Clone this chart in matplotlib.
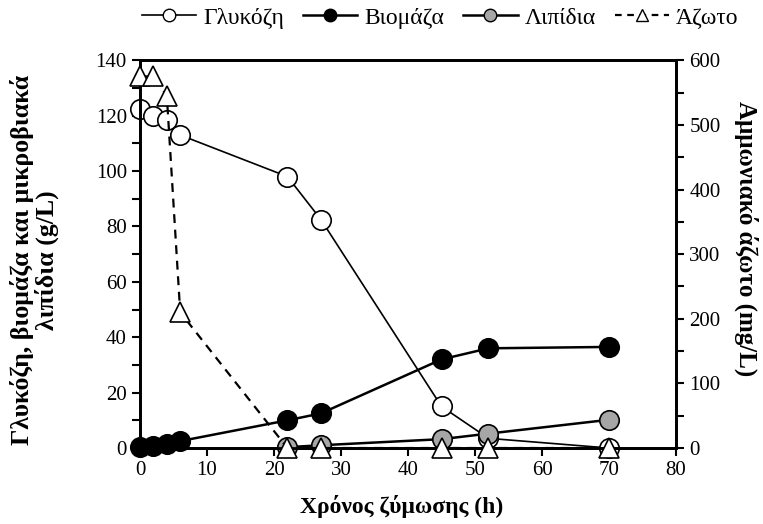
import matplotlib
matplotlib.use("Agg")
import matplotlib.pyplot as plt
from matplotlib.lines import Line2D
from matplotlib.ticker import MultipleLocator

plt.rcParams['font.family'] = ['Liberation Serif', 'DejaVu Serif']

# Fermentation time course
t_glucose = [0, 2, 4, 6, 22, 27, 45, 52, 70]
glucose = [122.5, 120, 118.5, 113, 98, 82.5, 15, 3.5, 0]

t_biomass = [0, 2, 4, 6, 22, 27, 45, 52, 70]
biomass = [0.5, 0.8, 1.5, 2.5, 10, 12.5, 32, 36, 36.5]

t_lipids = [22, 27, 45, 52, 70]
lipids = [0.3, 1.0, 3.2, 5.2, 10.2]

t_nitrogen = [0, 2, 4, 6, 22, 27, 45, 52, 70]
nitrogen = [575, 575, 545, 210, 0, 0, 0, 0, 0]

series_names = ["Γλυκόζη", "Βιομάζα", "Λιπίδια", "Άζωτο"]

TICK_FS = 15
LEG_FS = 17

fig = plt.figure(figsize=(7.63, 5.24), dpi=100)
ax = fig.add_axes([0.1835, 0.145, 0.7025, 0.74])

ms = 14
ax.plot(t_glucose, glucose, '-', color='black', lw=1.2, marker='o', ms=ms,
        mfc='white', mec='black', mew=1.2, zorder=2)
ax.plot(t_lipids, lipids, '-', color='black', lw=1.8, marker='o', ms=ms,
        mfc='#a6a6a6', mec='black', mew=1.2, zorder=3)
ax.plot(t_biomass, biomass, '-', color='black', lw=1.8, marker='o', ms=ms,
        mfc='black', mec='black', mew=1.2, zorder=4)

ax.set_xlim(0, 80)
ax.set_ylim(0, 140)
ax.xaxis.set_major_locator(MultipleLocator(10))
ax.yaxis.set_major_locator(MultipleLocator(20))
ax.yaxis.set_minor_locator(MultipleLocator(10))
ax.tick_params(axis='both', which='both', direction='out', labelsize=TICK_FS,
               width=1.5, length=6, color='black')
for s in ax.spines.values():
    s.set_linewidth(2)

ax2 = ax.twinx()
ax2.plot(t_nitrogen, nitrogen, '--', color='black', lw=1.6, dashes=(4, 3),
         marker='^', ms=ms, mfc='white', mec='black', mew=1.2, zorder=5)
ax2.set_ylim(0, 600)
ax2.yaxis.set_major_locator(MultipleLocator(100))
ax2.yaxis.set_minor_locator(MultipleLocator(50))
ax2.tick_params(axis='y', which='both', direction='out', labelsize=TICK_FS,
                width=1.5, length=6)
for s in ax2.spines.values():
    s.set_linewidth(2)

for a in (ax, ax2):
    for line in a.get_lines():
        line.set_clip_on(False)

# Axis titles
fig.text(0.527, 0.034, "Χρόνος ζύμωσης (h)", fontsize=17, fontweight='bold',
         ha='center', va='center')
fig.text(0.045, 0.504, "Γλυκόζη, βιομάζα και μικροβιακά\nλιπίδια (g/L)",
         fontsize=18.5, fontweight='bold', ha='center', va='center',
         rotation=90, linespacing=1.0, multialignment='center')
fig.text(0.978, 0.545, "Αμμωνιακό άζωτο (mg/L)", fontsize=18, fontweight='bold',
         ha='center', va='center', rotation=270)

lms = 9
handles = [
    Line2D([], [], color='black', lw=1.2, marker='o', ms=lms, mfc='white', mec='black'),
    Line2D([], [], color='black', lw=1.8, marker='o', ms=lms, mfc='black', mec='black'),
    Line2D([], [], color='black', lw=1.8, marker='o', ms=lms, mfc='#a6a6a6', mec='black'),
    Line2D([], [], color='black', lw=1.6, ls='--', dashes=(3, 2.5), marker='^', ms=lms,
           mfc='white', mec='black'),
]
fig.legend(handles, series_names, loc='center', bbox_to_anchor=(0.577, 0.966),
           ncol=4, frameon=False, fontsize=LEG_FS, handlelength=2.3,
           columnspacing=0.8, handletextpad=0.3, borderpad=0.2)

fig.savefig("out.png", dpi=100)
